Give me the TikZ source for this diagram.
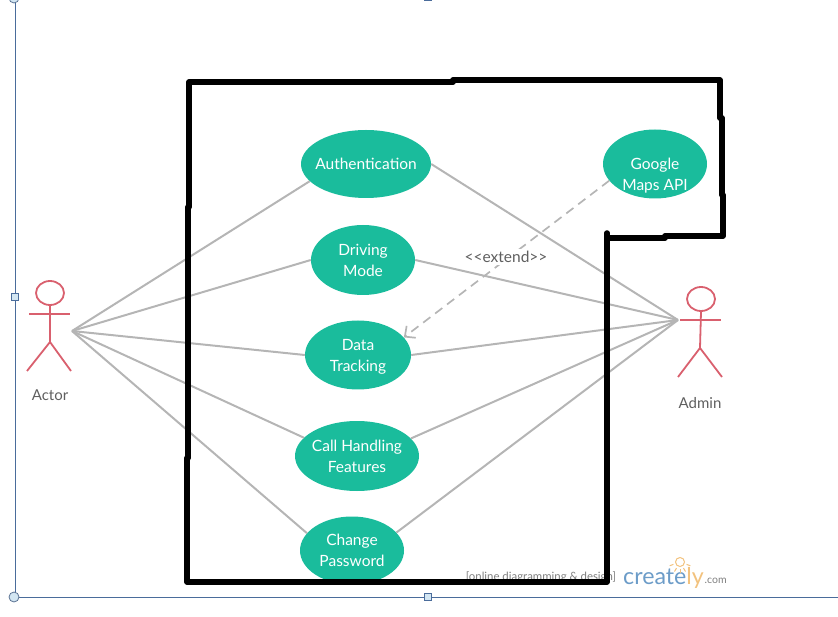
\documentclass[tikz,border=0pt]{standalone}
\usepackage{fontspec}
\setmainfont{Lato}
\usetikzlibrary{shapes.geometric,arrows.meta}
\definecolor{tealuc}{HTML}{1ABC9C}
\definecolor{redact}{HTML}{D9606E}
\definecolor{greyln}{HTML}{B5B5B5}
\definecolor{greytx}{HTML}{5F5F5F}
\definecolor{selblue}{HTML}{4A6C9B}
\definecolor{handle}{HTML}{D3E6F2}
\definecolor{crblue}{HTML}{6C9CC8}
\definecolor{crorange}{HTML}{F2C27E}
\tikzset{
  usecase/.style={ellipse,fill=tealuc,draw=none,inner sep=0pt,align=center,text=white,
    font=\fontsize{15.5}{21}\selectfont},
  link/.style={draw=greyln,line width=2pt},
  figure/.style={draw=redact,line width=1.8pt},
  lbl/.style={text=greytx,font=\fontsize{15}{18}\selectfont,inner sep=1pt},
  sel/.style={draw=selblue,line width=0.9pt},
  sqhandle/.style={draw=selblue,fill=handle,line width=0.7pt,minimum size=7pt,inner sep=0pt,rectangle},
  cchandle/.style={draw=selblue!70!gray,fill=handle,line width=0.8pt,minimum size=10pt,inner sep=0pt,circle},
  border/.style={draw=black,line width=5.5pt,line join=round}
}
\begin{document}
\begin{tikzpicture}[x=1pt,y=-1pt]
\useasboundingbox (0,0) rectangle (838,617);
\begin{scope}
\clip (0,0) rectangle (838,617);
% selection frame
\draw[sel] (15,0) -- (15,597);
\draw[sel] (15,597) -- (838,597);
\node[cchandle] (h1) at (14,597) {};
\node[cchandle] (h2) at (14,-2) {};
\node[sqhandle] (h3) at (428,597) {};
\node[sqhandle] (h4) at (428,-3) {};
\node[sqhandle] (h5) at (15,297) {};
% use cases
\node[usecase,minimum width=130pt,minimum height=68pt] (auth) at (366,164) {\makebox[0pt]{Authentication}};
\node[usecase,minimum width=104pt,minimum height=70pt] (drive) at (363,260) {Driving\\Mode};
\node[usecase,minimum width=106pt,minimum height=69pt] (data) at (358,355) {Data\\\raisebox{0pt}[0pt][0pt]{Tracking}};
\node[usecase,minimum width=124pt,minimum height=70pt] (call) at (357,456) {\makebox[0pt]{Call Handling}\\Features};
\node[usecase,minimum width=104pt,minimum height=68pt] (change) at (352,550.5) {Change\\Password};
\node[usecase,minimum width=104pt,minimum height=69pt] (maps) at (655,164) {\raisebox{-15pt}[0pt][0pt]{\begin{tabular}{@{}c@{}}Google\\Maps API\end{tabular}}};
% actors
\coordinate (ahub) at (72,331);
\coordinate (bhub) at (678,320);
\node[ellipse,figure,minimum width=28pt,minimum height=24pt,inner sep=0pt] (ahead) at (50,293) {};
\coordinate (aarml) at (29,314); \coordinate (aarmr) at (70,314);
\coordinate (ahip) at (50,342); \coordinate (alegl) at (27,371); \coordinate (alegr) at (71,371);
\draw[figure] (ahead.south) -- (ahip);
\draw[figure] (aarml) -- (aarmr);
\draw[figure] (alegl) -- (ahip) -- (alegr);
\node[lbl] (alab) at (50,395) {Actor};
\node[ellipse,figure,minimum width=28pt,minimum height=24pt,inner sep=0pt] (bhead) at (701,299) {};
\coordinate (barml) at (680,320); \coordinate (barmr) at (721,320);
\coordinate (bhip) at (700,348); \coordinate (blegl) at (678,377); \coordinate (blegr) at (722,377);
\draw[figure] (bhead.south) -- (bhip);
\draw[figure] (barml) -- (barmr);
\draw[figure] (blegl) -- (bhip) -- (blegr);
\node[lbl] (blab) at (700,403) {Admin};
% connectors
\draw[link] (ahub) -- (auth.197.5);
\draw[link] (ahub) -- (drive.west);
\draw[link] (ahub) -- (data.west);
\draw[link] (ahub) -- (call.161);
\draw[link] (ahub) -- (change.159);
\draw[link] (auth.east) -- (bhub);
\draw[link] (drive.east) -- (bhub);
\draw[link] (data.east) -- (bhub);
\draw[link] (call.18) -- (bhub);
\draw[link] (change.22) -- (bhub);
\draw[draw=greyln,line width=1.7pt,dash pattern=on 9pt off 6pt,-{Straight Barb[length=8pt,width=15pt]}] (maps.200.5) -- (data.21.8);
\node[fill=white,text=greytx,font=\fontsize{15.5}{16}\selectfont,inner xsep=1pt,inner ysep=2pt] (ext) at (506,257) {<{}<extend>{}>};
% watermark
\node[text=greytx!80,font=\fontsize{11.4}{12}\selectfont,inner sep=0pt] (wm) at (541,577) {[online diagramming \& design]};
\node[text=crblue,font=\fontsize{23.2}{26}\selectfont,inner sep=0pt,anchor=base west] (cr) at (623,584) {create\textcolor{crorange}{ly}};
\node[text=gray,font=\fontsize{10.5}{12}\selectfont,inner sep=0pt,anchor=base west] (com) at (704.5,583) {.com};
\node[circle,draw=crorange,line width=1pt,minimum size=9pt,inner sep=0pt] (bulb) at (680,562) {};
\foreach \a in {20,60,90,120,160}{ \draw[crorange,line width=1pt] (bulb) ++(-\a:7pt) -- ++(-\a:4pt); }
% system border
\draw[border] (189,82) -- (453,82) -- (453,80) -- (720,80) -- (720,118) -- (722,118) -- (722,195) -- (723,195) -- (723,236) -- (665,236) -- (665,238) -- (607,238) -- (607,233) -- (607,582) -- (187,582) -- (187,458) -- (188,458) -- (188,207) -- (189,207) -- cycle;
\end{scope}
\end{tikzpicture}
\end{document}
